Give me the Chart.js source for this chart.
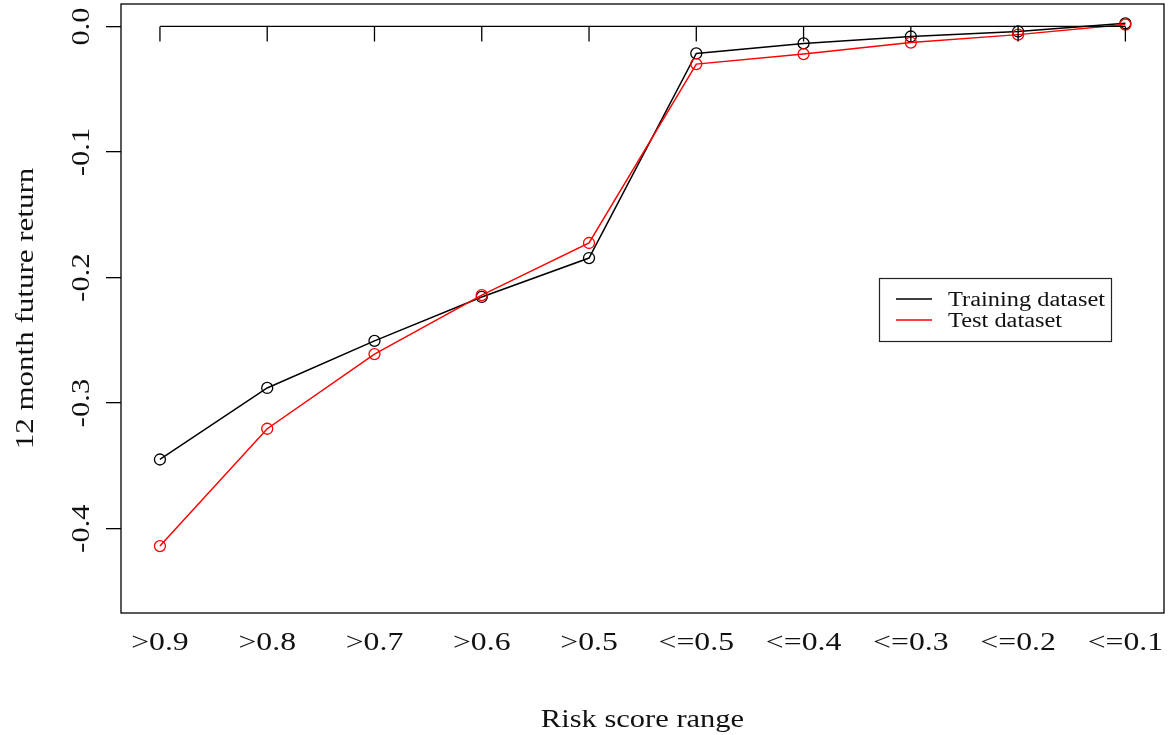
<!DOCTYPE html>
<html>
<head>
<meta charset="utf-8">
<title>Risk score range vs 12 month future return</title>
<script src="https://cdn.jsdelivr.net/npm/chart.js@4.4.1/dist/chart.umd.min.js"></script>
<style>
  html, body { margin: 0; padding: 0; background: #fff; }
  #wrap { width: 1171px; height: 735px; }
</style>
</head>
<body>
<div id="wrap"><canvas id="risk-chart" width="1171" height="735"></canvas></div>
<script>
// Data
const categories = [">0.9", ">0.8", ">0.7", ">0.6", ">0.5", "<=0.5", "<=0.4", "<=0.3", "<=0.2", "<=0.1"];
const trainingReturns = [-0.345, -0.288, -0.2505, -0.2155, -0.1845, -0.0215, -0.0135, -0.008, -0.004, 0.0025];
const testReturns = [-0.414, -0.3205, -0.261, -0.214, -0.1725, -0.030, -0.022, -0.0128, -0.0065, 0.0015];
const yTicks = [0, -0.1, -0.2, -0.3, -0.4];
const yTickLabels = ["0.0", "-0.1", "-0.2", "-0.3", "-0.4"];
const seriesNames = ["Training dataset", "Test dataset"];
const xTitle = "Risk score range";
const yTitle = "12 month future return";

document.addEventListener("DOMContentLoaded", () => {
  const canvas = document.getElementById("risk-chart");
  const ctx = canvas.getContext("2d");

  const FONT = '"Liberation Serif", "Times New Roman", serif';
  const INK = "#111";

  // stretched serif text, like the wide R postscript font
  const drawText = (c, text, x, y, opts) => {
    c.save();
    c.translate(x, y);
    c.rotate(opts.angle || 0);
    c.scale(opts.stretch || 1, 1);
    c.font = opts.font;
    c.fillStyle = INK;
    c.textAlign = opts.align || "center";
    c.textBaseline = "alphabetic";
    c.fillText(text, 0, 0);
    c.restore();
  };

  const toPoints = (values) => values.map((v, i) => ({ x: i, y: v }));

  // box, zero axis, labels, titles, legend
  const rPlotDecor = {
    id: "rPlotDecor",
    afterDraw(chart) {
      const c = chart.ctx;
      const area = chart.chartArea;
      const xs = chart.scales.x;
      const ys = chart.scales.y;

      c.save();
      c.strokeStyle = "#000";
      c.lineWidth = 1.3;
      c.strokeRect(area.left, area.top, area.right - area.left, area.bottom - area.top);

      // axis drawn along y = 0 with ticks pointing down
      const y0 = ys.getPixelForValue(0);
      c.beginPath();
      c.moveTo(xs.getPixelForValue(0), y0);
      c.lineTo(xs.getPixelForValue(categories.length - 1), y0);
      categories.forEach((_, i) => {
        const px = xs.getPixelForValue(i);
        c.moveTo(px, y0);
        c.lineTo(px, y0 + 15);
      });
      c.stroke();
      c.restore();

      // y tick labels, rotated
      yTicks.forEach((v, i) => {
        drawText(c, yTickLabels[i], 89, ys.getPixelForValue(v), {
          angle: -Math.PI / 2, font: "25px " + FONT, stretch: 1.22,
        });
      });

      // x tick labels
      categories.forEach((label, i) => {
        drawText(c, label, xs.getPixelForValue(i), 650, {
          font: "25px " + FONT, stretch: 1.27,
        });
      });

      // titles
      drawText(c, xTitle, (area.left + area.right) / 2, 727, {
        font: "25px " + FONT, stretch: 1.22,
      });
      drawText(c, yTitle, 33, (area.top + area.bottom) / 2, {
        angle: -Math.PI / 2, font: "25px " + FONT, stretch: 1.24,
      });

      // legend box
      c.save();
      c.strokeStyle = "#222";
      c.lineWidth = 1.2;
      c.strokeRect(879.5, 278.5, 232, 63);
      const rows = [299, 320];
      chart.data.datasets.forEach((ds, i) => {
        c.strokeStyle = ds.borderColor;
        c.lineWidth = 1.6;
        c.beginPath();
        c.moveTo(896, rows[i]);
        c.lineTo(932, rows[i]);
        c.stroke();
      });
      c.restore();
      chart.data.datasets.forEach((ds, i) => {
        drawText(c, ds.label, 948, rows[i] + 7, {
          align: "left", font: "20px " + FONT, stretch: 1.22,
        });
      });
    },
  };

  const lineStyle = (color) => ({
    borderColor: color,
    backgroundColor: "rgba(0,0,0,0)",
    borderWidth: 1.5,
    pointRadius: 5.5,
    pointBorderWidth: 1.3,
    pointBorderColor: color,
    pointBackgroundColor: "rgba(0,0,0,0)",
    tension: 0,
    fill: false,
  });

  new Chart(ctx, {
    type: "line",
    data: {
      datasets: [
        { label: seriesNames[0], data: toPoints(trainingReturns), order: 1, ...lineStyle("#000000") },
        { label: seriesNames[1], data: toPoints(testReturns), order: 0, ...lineStyle("#ff0000") },
      ],
    },
    options: {
      responsive: false,
      animation: false,
      devicePixelRatio: 1,
      layout: {
        autoPadding: false,
        padding: { left: 0, top: 4, right: 7, bottom: 122 },
      },
      plugins: {
        legend: { display: false },
        tooltip: { enabled: false },
      },
      scales: {
        x: {
          type: "linear",
          display: false,
          min: -0.363,
          max: 9.36,
        },
        y: {
          type: "linear",
          min: -0.4673,
          max: 0.0179,
          afterBuildTicks: (scale) => {
            scale.ticks = yTicks.map((v) => ({ value: v }));
          },
          afterFit: (scale) => {
            scale.width = 121;
          },
          ticks: { display: false },
          border: { display: false },
          grid: {
            drawOnChartArea: false,
            drawTicks: true,
            tickLength: 15,
            color: "#000",
            lineWidth: 1.3,
          },
        },
      },
    },
    plugins: [rPlotDecor],
  });
});
</script>
</body>
</html>
